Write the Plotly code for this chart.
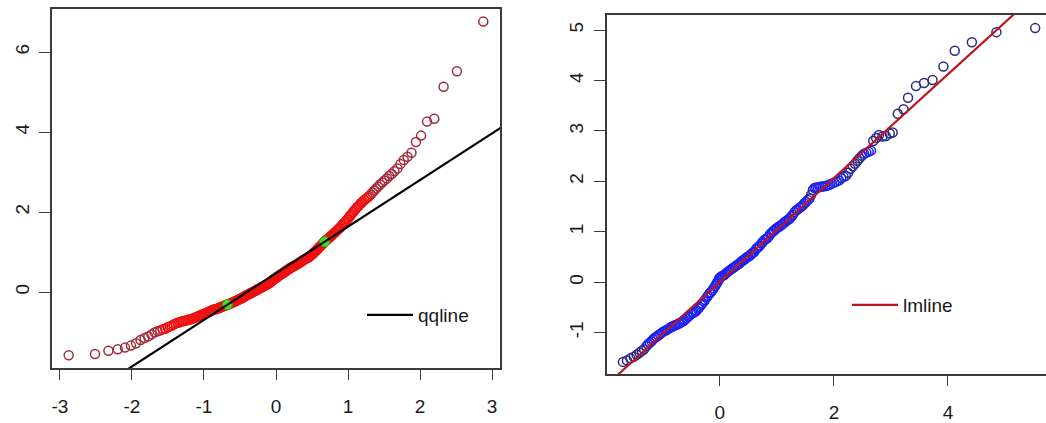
import numpy as np
import plotly.graph_objects as go
from statistics import NormalDist

# ---- left panel: sorted sample values for the normal Q-Q plot ----
sample_left = [
    -1.58, -1.55, -1.47, -1.43, -1.39, -1.34, -1.28, -1.20, -1.15, -1.11,
    -1.06, -1.01, -0.98, -0.96, -0.93, -0.92, -0.88, -0.86, -0.84, -0.81,
    -0.79, -0.77, -0.76, -0.74, -0.73, -0.72, -0.71, -0.70, -0.69, -0.68,
    -0.67, -0.66, -0.64, -0.63, -0.61, -0.60, -0.59, -0.57, -0.56, -0.55,
    -0.54, -0.53, -0.51, -0.50, -0.49, -0.47, -0.46, -0.45, -0.44, -0.43,
    -0.43, -0.42, -0.41, -0.40, -0.39, -0.38, -0.37, -0.36, -0.35, -0.34,
    -0.33, -0.32, -0.32, -0.31, -0.30, -0.29, -0.28, -0.27, -0.26, -0.25,
    -0.24, -0.23, -0.22, -0.21, -0.20, -0.19, -0.18, -0.17, -0.16, -0.15,
    -0.14, -0.13, -0.11, -0.10, -0.09, -0.08, -0.07, -0.06, -0.05, -0.04,
    -0.03, -0.02, -0.01, 0.00, 0.01, 0.02, 0.03, 0.04, 0.05, 0.06,
    0.07, 0.08, 0.09, 0.10, 0.11, 0.12, 0.13, 0.14, 0.15, 0.16,
    0.17, 0.18, 0.19, 0.20, 0.21, 0.22, 0.23, 0.25, 0.26, 0.28,
    0.29, 0.31, 0.32, 0.34, 0.35, 0.36, 0.37, 0.39, 0.40, 0.41,
    0.43, 0.44, 0.45, 0.46, 0.47, 0.48, 0.50, 0.51, 0.52, 0.54,
    0.55, 0.56, 0.57, 0.58, 0.60, 0.61, 0.62, 0.63, 0.64, 0.65,
    0.66, 0.67, 0.68, 0.69, 0.70, 0.71, 0.73, 0.74, 0.75, 0.77,
    0.78, 0.79, 0.80, 0.82, 0.83, 0.84, 0.84, 0.86, 0.87, 0.88,
    0.90, 0.92, 0.93, 0.95, 0.97, 0.99, 1.01, 1.03, 1.05, 1.07,
    1.10, 1.12, 1.14, 1.16, 1.19, 1.21, 1.24, 1.26, 1.28, 1.30,
    1.32, 1.34, 1.36, 1.38, 1.40, 1.42, 1.45, 1.47, 1.49, 1.52,
    1.54, 1.57, 1.59, 1.62, 1.65, 1.68, 1.71, 1.74, 1.77, 1.81,
    1.84, 1.88, 1.92, 1.96, 2.00, 2.04, 2.08, 2.12, 2.15, 2.19,
    2.23, 2.26, 2.30, 2.33, 2.36, 2.40, 2.44, 2.49, 2.54, 2.59,
    2.64, 2.69, 2.74, 2.79, 2.84, 2.90, 2.95, 3.02, 3.09, 3.20,
    3.30, 3.38, 3.48, 3.75, 3.91, 4.26, 4.33, 5.13, 5.52, 6.76,
]

# ---- right panel: theoretical quantiles and observed values ----
right_theoretical = [
    -1.70, -1.63, -1.57, -1.51, -1.46, -1.41, -1.37, -1.33, -1.29, -1.26,
    -1.23, -1.20, -1.17, -1.14, -1.11, -1.08, -1.05, -1.02,
    -0.99, -0.96, -0.94, -0.91, -0.88, -0.86, -0.83, -0.80, -0.78, -0.75,
    -0.72, -0.70, -0.67, -0.64, -0.62, -0.59, -0.56, -0.54, -0.51,
    -0.48, -0.46, -0.43, -0.41, -0.38, -0.36, -0.33, -0.31, -0.28, -0.26,
    -0.23, -0.21, -0.18, -0.16, -0.13, -0.11, -0.08, -0.06, -0.04, -0.02, -0.01,
    0.01, 0.03, 0.05, 0.08, 0.10, 0.13, 0.15, 0.18, 0.20, 0.23,
    0.25, 0.28, 0.30, 0.33, 0.35, 0.38, 0.40, 0.43, 0.45, 0.48,
    0.50, 0.53, 0.55, 0.58, 0.60, 0.63, 0.65, 0.68, 0.70, 0.73,
    0.75, 0.78, 0.80, 0.83, 0.85, 0.88, 0.90, 0.93, 0.95, 0.98,
    1.00, 1.03, 1.05, 1.08, 1.10, 1.13, 1.15, 1.18, 1.21, 1.23,
    1.26, 1.28, 1.31, 1.34, 1.36, 1.39, 1.42, 1.45, 1.48,
    1.51, 1.54, 1.57, 1.60, 1.63, 1.66, 1.69, 1.72, 1.75, 1.78,
    1.81, 1.85, 1.89, 1.93, 1.97,
    2.01, 2.05, 2.09, 2.13, 2.17, 2.21, 2.25, 2.29, 2.33, 2.37,
    2.41, 2.45, 2.49, 2.53, 2.57, 2.61,
    2.65, 2.69, 2.74, 2.79, 2.85, 2.91, 2.98, 3.03, 3.12, 3.22,
    3.30, 3.44, 3.58, 3.73, 3.92, 4.12, 4.42, 4.85, 5.53,
]
right_sample = [
    -1.58, -1.55, -1.51, -1.48, -1.44, -1.40, -1.36, -1.33, -1.27, -1.23,
    -1.20, -1.17, -1.13, -1.10, -1.08, -1.05, -1.03, -1.00,
    -0.98, -0.96, -0.95, -0.93, -0.91, -0.89, -0.88, -0.86, -0.85, -0.84,
    -0.82, -0.81, -0.79, -0.77, -0.75, -0.72, -0.68, -0.67, -0.63,
    -0.61, -0.60, -0.58, -0.56, -0.52, -0.49, -0.45, -0.42, -0.38, -0.35,
    -0.30, -0.27, -0.22, -0.20, -0.16, -0.12, -0.07, -0.03, 0.01, 0.05, 0.08,
    0.10, 0.12, 0.13, 0.15, 0.17, 0.20, 0.22, 0.24, 0.26, 0.28,
    0.30, 0.32, 0.34, 0.36, 0.38, 0.41, 0.43, 0.45, 0.47, 0.50,
    0.51, 0.53, 0.56, 0.59, 0.60, 0.65, 0.68, 0.70, 0.73, 0.77,
    0.80, 0.84, 0.85, 0.87, 0.90, 0.95, 0.97, 1.01, 1.02, 1.06,
    1.07, 1.10, 1.11, 1.14, 1.15, 1.19, 1.20, 1.23, 1.25, 1.27,
    1.31, 1.34, 1.39, 1.43, 1.44, 1.47, 1.49, 1.52, 1.56,
    1.59, 1.63, 1.66, 1.73, 1.83, 1.87, 1.88, 1.88, 1.89, 1.90,
    1.90, 1.91, 1.92, 1.94, 1.96,
    1.98, 2.00, 2.02, 2.06, 2.09, 2.11, 2.17, 2.25, 2.30, 2.35,
    2.41, 2.46, 2.51, 2.55, 2.57, 2.59,
    2.61, 2.80, 2.86, 2.92, 2.89, 2.90, 2.95, 2.97, 3.34, 3.43,
    3.66, 3.89, 3.95, 4.01, 4.28, 4.59, 4.76, 4.96, 5.04,
]

# ---- tick positions and labels ----
left_xticks = [-3, -2, -1, 0, 1, 2, 3]
left_xlabels = ["-3", "-2", "-1", "0", "1", "2", "3"]
left_yticks = [0, 2, 4, 6]
left_ylabels = ["0", "2", "4", "6"]
right_xticks = [0, 2, 4]
right_xlabels = ["0", "2", "4"]
right_yticks = [-1, 0, 1, 2, 3, 4, 5]
right_ylabels = ["-1", "0", "1", "2", "3", "4", "5"]

W, H = 1046, 423
FONT = "Arial, Liberation Sans, Helvetica, sans-serif"
FS = 19

# axis windows (pixel boxes converted to paper fractions)
left_box = dict(x0=52, x1=500, y0=9, y1=368)
right_box = dict(x0=607, x1=1046, y0=15, y1=374)
left_xrange = [-3.11, 3.11]
left_yrange = [-1.90, 7.075]
right_xrange = [-1.98, 5.72]
right_yrange = [-1.82, 5.30]


def xdom(b):
    return [b["x0"] / W, b["x1"] / W]


def ydom(b):
    return [1 - b["y1"] / H, 1 - b["y0"] / H]


def crowd_colors(x, y, box, xr, yr, dense, sparse, thresh=2.6):
    """Colour points by how crowded they are on screen."""
    sx = (box["x1"] - box["x0"]) / (xr[1] - xr[0])
    sy = (box["y1"] - box["y0"]) / (yr[1] - yr[0])
    px = np.asarray(x) * sx
    py = np.asarray(y) * sy
    d = np.hypot(np.diff(px), np.diff(py))
    gap = np.minimum(np.r_[np.inf, d], np.r_[d, np.inf])
    return np.where(gap < thresh, dense, sparse).tolist()


# normal Q-Q construction for the left panel
nd = NormalDist()
ys = np.sort(np.asarray(sample_left))
n = len(ys)
theo = np.array([nd.inv_cdf((i - 0.5) / n) for i in range(1, n + 1)])
probs = [0.25, 0.75]
qy = np.quantile(ys, probs)
qx = np.array([nd.inv_cdf(p) for p in probs])
qq_slope = (qy[1] - qy[0]) / (qx[1] - qx[0])
qq_int = qy[0] - qq_slope * qx[0]
qq_x = np.array([-4.0, 4.0])

# least-squares line for the right panel
lm_slope, lm_int = np.polyfit(right_theoretical, right_sample, 1)
lm_x = np.array([-3.0, 7.0])

fig = go.Figure()

fig.add_trace(go.Scatter(
    x=theo, y=ys, mode="markers", showlegend=False, xaxis="x", yaxis="y",
    marker=dict(symbol="circle-open", size=9,
                color=crowd_colors(theo, ys, left_box, left_xrange, left_yrange,
                                   "#EE1111", "#A02E3A"),
                line=dict(width=1.5)),
))
fig.add_trace(go.Scatter(
    x=qx, y=qy, mode="markers", showlegend=False, xaxis="x", yaxis="y",
    marker=dict(symbol="circle", size=10, color="#44DD22",
                line=dict(color="#2E9E1A", width=1)),
))
fig.add_trace(go.Scatter(
    x=qq_x, y=qq_int + qq_slope * qq_x, mode="lines", name="qqline",
    xaxis="x", yaxis="y", legend="legend",
    line=dict(color="black", width=2.2),
))

fig.add_trace(go.Scatter(
    x=right_theoretical, y=right_sample, mode="markers", showlegend=False,
    xaxis="x2", yaxis="y2",
    marker=dict(symbol="circle-open", size=9,
                color=crowd_colors(right_theoretical, right_sample, right_box,
                                   right_xrange, right_yrange,
                                   "#1E22EE", "#2A2A86"),
                line=dict(width=1.5)),
))
fig.add_trace(go.Scatter(
    x=lm_x, y=lm_int + lm_slope * lm_x, mode="lines", name="lmline",
    xaxis="x2", yaxis="y2", legend="legend2",
    line=dict(color="#C01420", width=2.2),
))

axis_common = dict(
    showline=True, linecolor="#3a3a3a", linewidth=1.6,
    ticks="outside", tickwidth=1.4, tickcolor="#3a3a3a",
    showgrid=False, zeroline=False, tickmode="array",
    tickfont=dict(family=FONT, size=FS, color="#1a1a1a"),
)
legend_common = dict(
    xanchor="left", yanchor="middle", itemwidth=46,
    bgcolor="rgba(0,0,0,0)", borderwidth=0,
    font=dict(family=FONT, size=FS, color="#1a1a1a"),
)

fig.update_layout(
    width=W, height=H, autosize=False,
    margin=dict(l=0, r=0, t=0, b=0),
    paper_bgcolor="white", plot_bgcolor="white",
    font=dict(family=FONT, size=FS, color="#1a1a1a"),
    xaxis=dict(axis_common, domain=xdom(left_box), range=left_xrange,
               anchor="y", mirror=True, ticklen=10, ticklabelstandoff=10,
               tickvals=left_xticks, ticktext=left_xlabels),
    yaxis=dict(axis_common, domain=ydom(left_box), range=left_yrange,
               anchor="x", mirror=True, ticklen=11, tickangle=-90,
               ticklabelstandoff=3,
               tickvals=left_yticks, ticktext=left_ylabels),
    xaxis2=dict(axis_common, domain=xdom(right_box), range=right_xrange,
                anchor="y2", mirror=True, ticklen=10, ticklabelstandoff=10,
                tickvals=right_xticks, ticktext=right_xlabels),
    yaxis2=dict(axis_common, domain=ydom(right_box), range=right_yrange,
                anchor="x2", mirror=False, ticklen=11, tickangle=-90,
                ticklabelstandoff=4,
                tickvals=right_yticks, ticktext=right_ylabels),
    legend=dict(legend_common, x=362 / W, y=1 - 315 / H),
    legend2=dict(legend_common, x=847 / W, y=1 - 305 / H),
)

fig.write_html("out.html")
